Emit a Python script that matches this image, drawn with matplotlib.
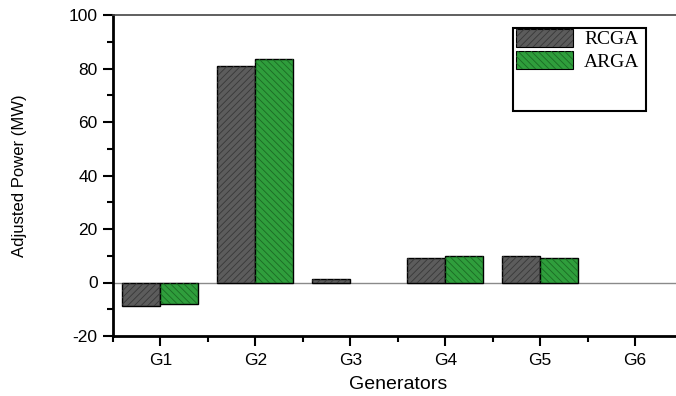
import matplotlib
matplotlib.use("Agg")
import matplotlib.pyplot as plt
from matplotlib.patches import Rectangle, Patch
from matplotlib.ticker import MultipleLocator

categories = ['G1', 'G2', 'G3', 'G4', 'G5', 'G6']
rcga = [-8.7, 81.0, 1.3, 9.0, 10.0, 0.0]
arga = [-8.0, 83.4, 0.0, 10.0, 9.3, 0.0]

plt.rcParams['font.family'] = ['Liberation Sans', 'DejaVu Sans']
plt.rcParams['axes.unicode_minus'] = False
plt.rcParams['hatch.linewidth'] = 0.6

gray, gray_h = '#5c5c5c', '#383838'
green, green_h = '#2f9e3c', '#1b6a24'

fig = plt.figure(figsize=(6.76, 3.96), dpi=100)
ax = fig.add_axes([113 / 676, 1 - 336 / 396, 569.5 / 676, 321 / 396])

x = list(range(1, len(categories) + 1))
w = 0.4
xr = [i - w / 2 for i in x]
xa = [i + w / 2 for i in x]


def lw_for(vals):
    return [1.0 if v != 0 else 0 for v in vals]


ax.axhline(0, color='#8a8a8a', lw=1.0, zorder=1)
ax.bar(xr, rcga, w, color=gray, edgecolor='black', linewidth=lw_for(rcga), zorder=2)
ax.bar(xr, rcga, w, fill=False, hatch='/////', edgecolor=gray_h, linewidth=0, zorder=3)
ax.bar(xa, arga, w, color=green, edgecolor='black', linewidth=lw_for(arga), zorder=2)
ax.bar(xa, arga, w, fill=False, hatch='\\\\\\\\\\', edgecolor=green_h, linewidth=0, zorder=3)

ax.set_xlim(0.5, 6.5)
ax.set_ylim(-20, 100)
ax.set_xticks(x)
ax.set_xticklabels(categories)
ax.xaxis.set_minor_locator(MultipleLocator(1, offset=0.5))
ax.yaxis.set_major_locator(MultipleLocator(20))
ax.yaxis.set_minor_locator(MultipleLocator(10))
ax.tick_params(which='major', direction='out', length=7, width=1.5, labelsize=12.5, pad=4)
ax.tick_params(which='minor', direction='out', length=4, width=1.5)
ax.tick_params(axis='x', which='major', pad=5)

for s in ['left', 'bottom']:
    ax.spines[s].set_linewidth(2)
ax.spines['top'].set_color('#444444')
ax.spines['top'].set_linewidth(1.2)
ax.spines['right'].set_visible(False)

ax.set_ylabel('Adjusted Power (MW)', fontsize=12, labelpad=30)
ax.set_xlabel('Generators', fontsize=14, labelpad=6)

ax.add_patch(Rectangle((0.702, 0.702), 0.234, 0.258, transform=ax.transAxes,
                       fill=False, lw=1.5, edgecolor='black', zorder=5))
h1 = (Patch(facecolor=gray, edgecolor='black', lw=0.8),
      Patch(fill=False, hatch='/////', edgecolor=gray_h, lw=0))
h2 = (Patch(facecolor=green, edgecolor='black', lw=0.8),
      Patch(fill=False, hatch='\\\\\\\\\\', edgecolor=green_h, lw=0))
ax.legend([h1, h2], ['RCGA', 'ARGA'], loc='upper left',
          bbox_to_anchor=(0.708, 0.956), frameon=False, borderpad=0,
          borderaxespad=0, handlelength=2.9, handleheight=1.0,
          labelspacing=0.15, handletextpad=0.6,
          prop={'family': 'Liberation Serif', 'size': 14})

fig.savefig('out.png', dpi=100)
